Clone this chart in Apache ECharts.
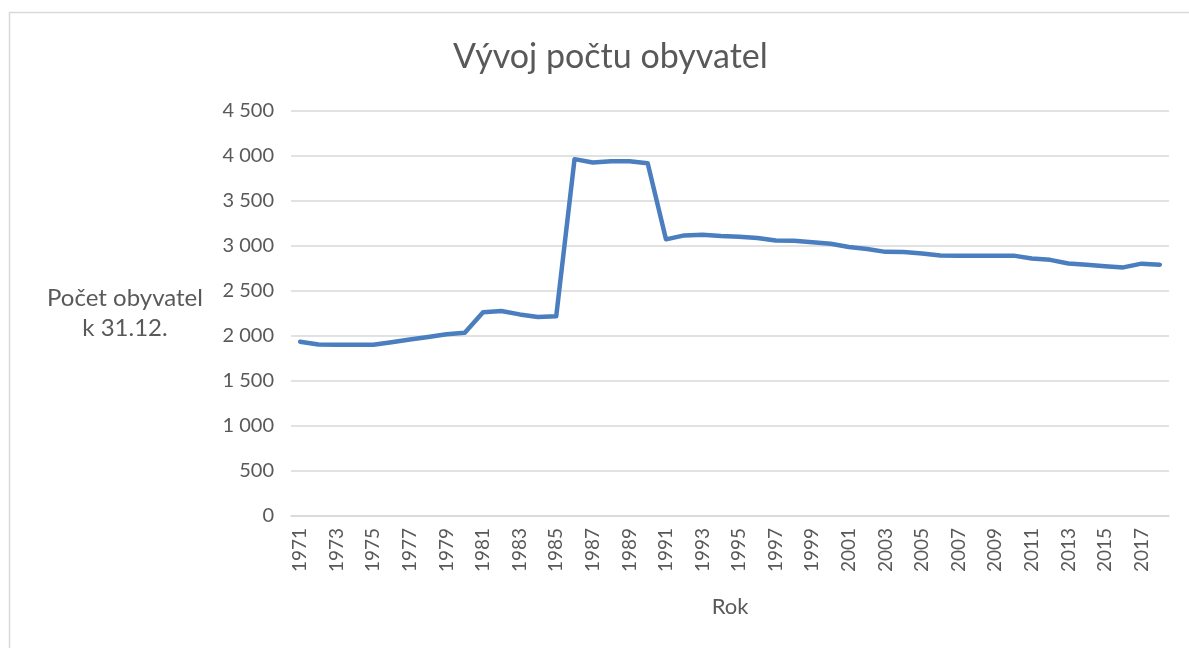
<!DOCTYPE html>
<html>
<head>
<meta charset="utf-8">
<script src="https://cdn.jsdelivr.net/npm/echarts@6/dist/echarts.min.js"></script>
<style>
    html, body { margin: 0; padding: 0; background: #fff; }
    #chart { width: 1189px; height: 648px; }
</style>
</head>
<body>
<div id="chart"></div>
<script>
const years = [];
for (let y = 1971; y <= 2018; y++) years.push(String(y));

const population = [
    1937, 1905, 1903, 1903, 1903, 1930, 1960, 1990, 2020, 2035,
    2265, 2278, 2240, 2210, 2220, 3965, 3928, 3942, 3942, 3920,
    3074, 3118, 3125, 3110, 3104, 3088, 3060, 3058, 3042, 3025,
    2988, 2966, 2935, 2934, 2916, 2894, 2893, 2893, 2893, 2893,
    2862, 2846, 2806, 2792, 2776, 2762, 2804, 2792,
];

const title_text = "Vývoj počtu obyvatel";
const y_name = "Počet obyvatel\nk 31.12.";
const x_name = "Rok";

const font = "Lato, 'Open Sans', sans-serif";
const text_color = "#595959";
const grid_color = "#d9d9d9";

const format_thousands = function (v) {
    return String(v).replace(/\B(?=(\d{3})+(?!\d))/g, " ");
};

const chart = echarts.init(document.getElementById("chart"));

chart.setOption({
    animation: false,
    textStyle: { fontFamily: font },
    title: {
        text: title_text,
        left: 448,
        top: 35,
        textStyle: {
            fontFamily: font,
            fontSize: 34,
            fontWeight: "normal",
            color: text_color,
        },
    },
    graphic: [
        {
            type: "rect",
            shape: { x: 9.5, y: 12.5, width: 1300, height: 800 },
            style: { fill: "none", stroke: grid_color, lineWidth: 1.5 },
            silent: true,
        },
    ],
    grid: {
        left: 291,
        right: 20,
        top: 111,
        bottom: 132,
    },
    xAxis: {
        type: "category",
        data: years,
        boundaryGap: true,
        name: x_name,
        nameLocation: "middle",
        nameGap: 80,
        nameTextStyle: {
            fontFamily: font,
            fontSize: 22,
            color: text_color,
        },
        axisLine: {
            lineStyle: { color: grid_color, width: 1.5 },
        },
        axisTick: { show: false },
        axisLabel: {
            interval: 1,
            rotate: 90,
            margin: 12,
            fontSize: 19,
            color: text_color,
            fontFamily: font,
        },
        splitLine: { show: false },
    },
    yAxis: {
        type: "value",
        min: 0,
        max: 4500,
        interval: 500,
        name: y_name,
        nameLocation: "middle",
        nameRotate: 0,
        nameGap: 166,
        nameTextStyle: {
            fontFamily: font,
            fontSize: 24,
            color: text_color,
            align: "center",
            lineHeight: 30,
        },
        axisLine: { show: false },
        axisTick: { show: false },
        axisLabel: {
            margin: 17,
            fontSize: 20,
            color: text_color,
            fontFamily: font,
            formatter: format_thousands,
        },
        splitLine: {
            lineStyle: { color: grid_color, width: 1.5 },
        },
    },
    series: [
        {
            name: "obyvatel",
            type: "line",
            data: population,
            symbol: "none",
            lineStyle: { color: "#4a7ebf", width: 4.5, join: "round", cap: "round" },
        },
    ],
});
</script>
</body>
</html>
